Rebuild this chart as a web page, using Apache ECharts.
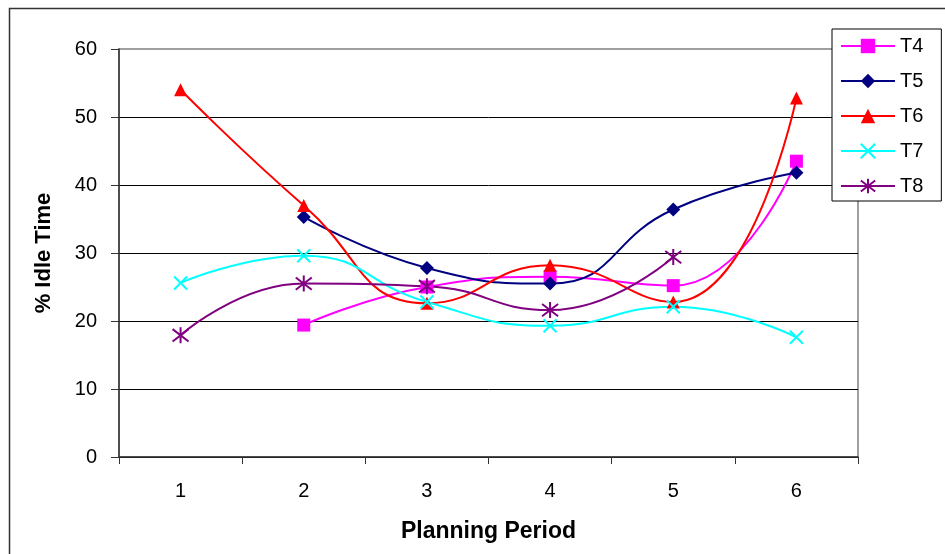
<!DOCTYPE html>
<html>
<head>
<meta charset="utf-8">
<script src="https://cdn.jsdelivr.net/npm/echarts@6/dist/echarts.min.js"></script>
<style>
html,body{margin:0;padding:0;background:#fff;}
#chart{width:945px;height:554px;}
</style>
</head>
<body>
<div id="chart"></div>
<script>
const categories = ['1', '2', '3', '4', '5', '6'];
const yTicks = [0, 10, 20, 30, 40, 50, 60];
const T4 = [null, 19.4, 25.0, 26.5, 25.2, 43.5];
const T5 = [null, 35.3, 27.8, 25.5, 36.4, 41.8];
const T6 = [54.0, 37.0, 22.6, 28.2, 22.8, 52.8];
const T7 = [25.6, 29.6, 22.8, 19.3, 22.1, 17.6];
const T8 = [17.9, 25.5, 25.1, 21.6, 29.4, null];

const FONT = '"Liberation Sans", Arial, sans-serif';
const chart = echarts.init(document.getElementById('chart'), null, {renderer: 'canvas'});

function mk(name, data, color, symbol, size, stroked) {
  return {
    name: name,
    type: 'line',
    data: data,
    smooth: 0.5,
    symbol: symbol,
    symbolSize: size,
    showAllSymbol: true,
    lineStyle: {color: color, width: 2},
    itemStyle: stroked ? {color: color, borderColor: color, borderWidth: 2} : {color: color, borderWidth: 0},
    emphasis: {disabled: true},
    animation: false
  };
}

const option = {
  backgroundColor: '#fff',
  animation: false,
  graphic: [{
    type: 'rect',
    left: 7, top: 6,
    shape: {x: 0, y: 0, width: 1000, height: 1000},
    style: {fill: 'none', stroke: '#333', lineWidth: 1.5},
    silent: true, z: -10
  }],
  grid: {
    left: 119, right: 87, top: 49, bottom: 97,
    show: true, borderColor: '#808080', borderWidth: 1.5, backgroundColor: 'transparent'
  },
  legend: {
    orient: 'vertical',
    left: 832, top: 29,
    padding: [7, 18, 5, 8],
    itemGap: 15,
    itemWidth: 54,
    itemHeight: 18,
    borderColor: '#000', borderWidth: 1,
    backgroundColor: '#fff',
    textStyle: {fontFamily: FONT, fontSize: 20, color: '#000', padding: [0, 0, 0, 0]},
    data: ['T4', 'T5', 'T6', 'T7', 'T8']
  },
  xAxis: {
    type: 'category',
    data: categories,
    boundaryGap: true,
    name: 'Planning Period',
    nameLocation: 'middle',
    nameGap: 63,
    nameTextStyle: {fontFamily: FONT, fontSize: 23, fontWeight: 'bold', color: '#000'},
    axisLine: {lineStyle: {color: '#333', width: 1.5}},
    axisTick: {show: true, length: 7, lineStyle: {color: '#333'}},
    axisLabel: {fontFamily: FONT, fontSize: 20, color: '#000', margin: 24},
    splitLine: {show: false}
  },
  yAxis: {
    type: 'value',
    min: yTicks[0], max: yTicks[yTicks.length - 1], interval: 10,
    name: '% Idle Time',
    nameLocation: 'middle',
    nameGap: 64,
    nameRotate: 90,
    nameTextStyle: {fontFamily: FONT, fontSize: 22, fontWeight: 'bold', color: '#000'},
    axisLine: {show: true, lineStyle: {color: '#333', width: 1.5}},
    axisTick: {show: true, length: 8, lineStyle: {color: '#333'}},
    axisLabel: {fontFamily: FONT, fontSize: 20, color: '#000', margin: 22},
    splitLine: {show: true, showMaxLine: false, lineStyle: {color: '#000', width: 1}}
  },
  series: [
    mk('T4', T4, '#FF00FF', 'rect', 13, false),
    mk('T5', T5, '#000080', 'diamond', 14, false),
    mk('T6', T6, '#FF0000', 'triangle', 13, false),
    mk('T7', T7, '#00FFFF', 'path://M0,0L10,10M10,0L0,10', 13, true),
    mk('T8', T8, '#800080', 'path://M0,0L10,10M10,0L0,10M5,-1.5L5,11.5', 16, true)
  ]
};
chart.setOption(option);
</script>
</body>
</html>
